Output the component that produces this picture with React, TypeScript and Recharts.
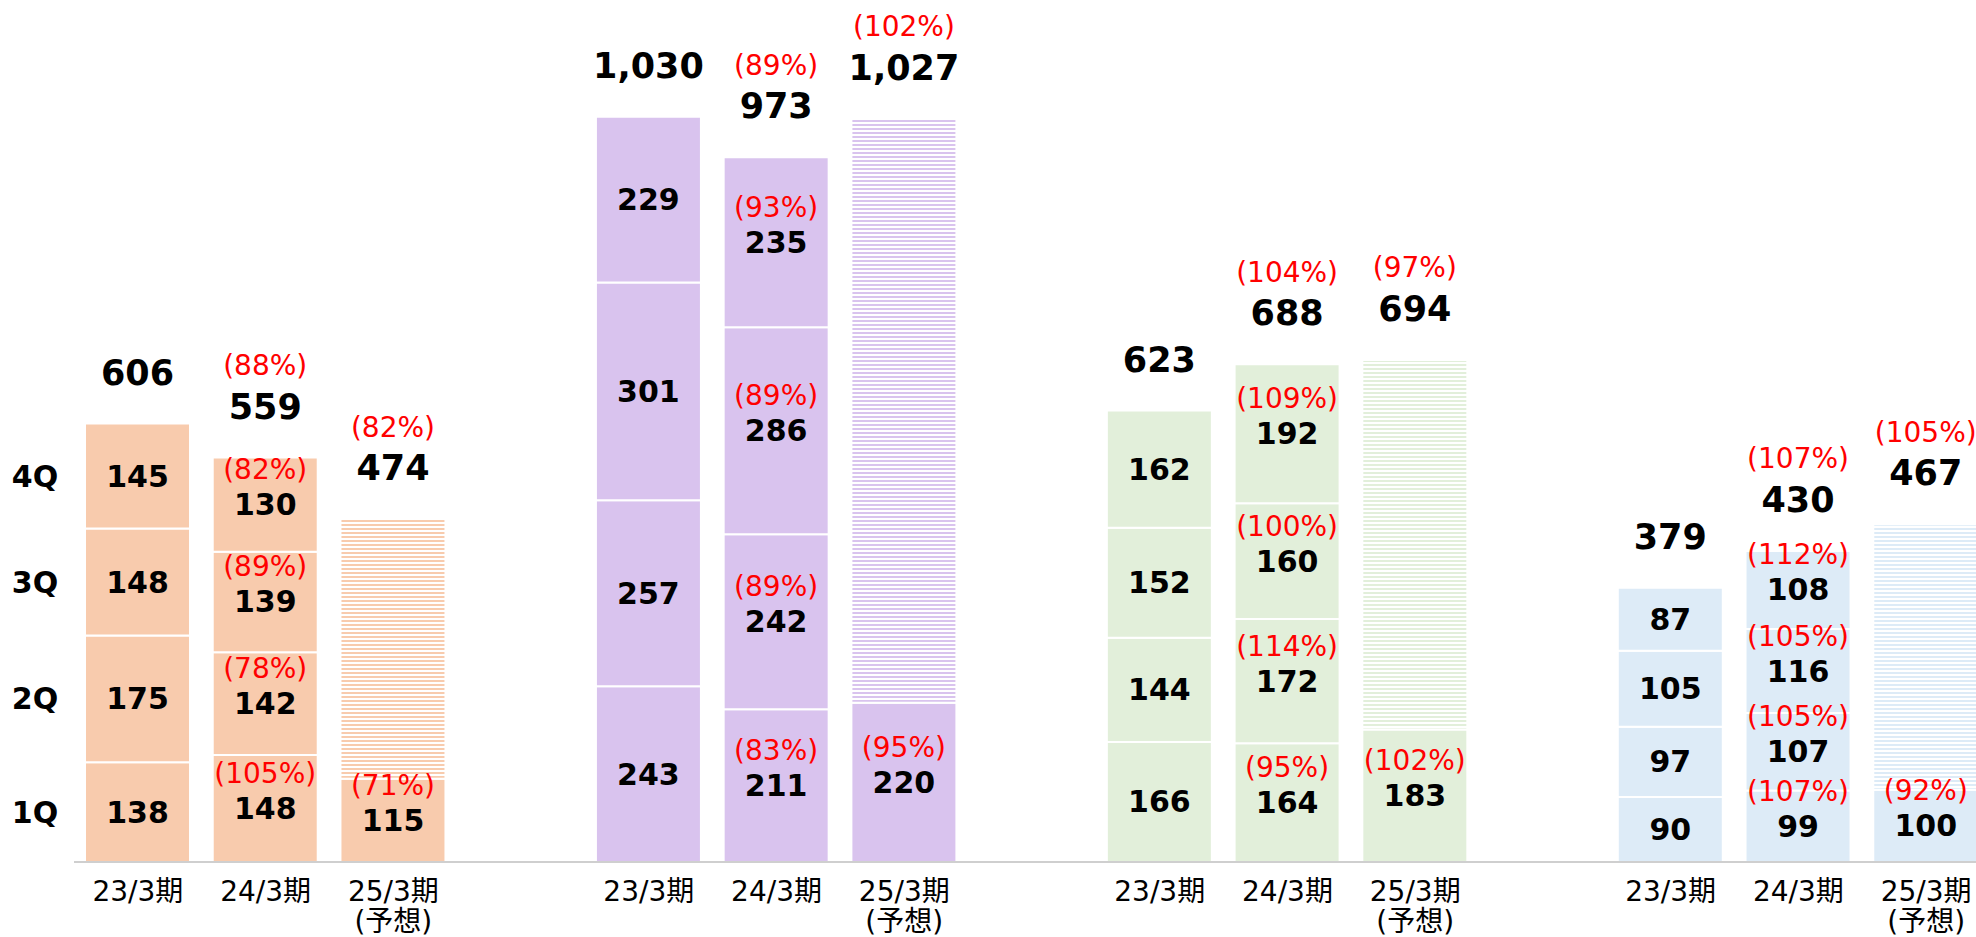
import React from "react";
import { BarChart, Bar, XAxis, YAxis, Cell, LabelList } from "recharts";

const periodLabels = ["23/3期", "24/3期", "25/3期"];
const forecastNote = "(予想)";
const quarterNames = ["1Q", "2Q", "3Q", "4Q"];
const groupColors = ["#F8CBAD", "#D9C3EE", "#E2EFDA", "#DDEBF7"];

// per group: [23/3, 24/3, 25/3]
const q1Values = [
  [138, 148, 115],
  [243, 211, 220],
  [166, 164, 183],
  [90, 99, 100],
];
// per group: [23/3, 24/3]
const q2Values = [
  [175, 142],
  [257, 242],
  [144, 172],
  [97, 107],
];
const q3Values = [
  [148, 139],
  [301, 286],
  [152, 160],
  [105, 116],
];
const q4Values = [
  [145, 130],
  [229, 235],
  [162, 192],
  [87, 108],
];
const totals = [
  [606, 559, 474],
  [1030, 973, 1027],
  [623, 688, 694],
  [379, 430, 467],
];
// YoY % for 24/3 quarters [1Q, 2Q, 3Q, 4Q]
const pct24Quarter = [
  [105, 78, 89, 82],
  [83, 89, 89, 93],
  [95, 114, 100, 109],
  [107, 105, 105, 112],
];
const pct24Total = [88, 89, 104, 107];
const pct25Q1 = [71, 95, 102, 92];
const pct25Total = [82, 102, 97, 105];

const FONT = "'DejaVu Sans', 'Noto Sans CJK JP', sans-serif";
const CHART_W = 1990;
const CHART_H = 937;
const AXIS_H = 75;
const PLOT_BOTTOM = CHART_H - AXIS_H;

type Row = {
  key: string;
  group: number;
  period: number;
  q1: number;
  q2: number;
  q3: number;
  q4: number;
  rest: number;
  total: number | null;
  totalPct: number | null;
  pcts: (number | null)[];
};

const rows: Row[] = [];
groupColors.forEach((_, g) => {
  periodLabels.forEach((_, p) => {
    const forecast = p === 2;
    rows.push({
      key: `g${g}-p${p}`,
      group: g,
      period: p,
      q1: q1Values[g][p],
      q2: forecast ? 0 : q2Values[g][p],
      q3: forecast ? 0 : q3Values[g][p],
      q4: forecast ? 0 : q4Values[g][p],
      rest: forecast ? totals[g][p] - q1Values[g][p] : 0,
      total: totals[g][p],
      totalPct: p === 1 ? pct24Total[g] : forecast ? pct25Total[g] : null,
      pcts:
        p === 1
          ? pct24Quarter[g]
          : forecast
          ? [pct25Q1[g], null, null, null]
          : [null, null, null, null],
    });
  });
  if (g < groupColors.length - 1) {
    rows.push({
      key: `gap${g}`,
      group: -1,
      period: -1,
      q1: 0,
      q2: 0,
      q3: 0,
      q4: 0,
      rest: 0,
      total: null,
      totalPct: null,
      pcts: [null, null, null, null],
    });
  }
});

const rowByKey = new Map(rows.map((r) => [r.key, r]));
const qKeys = ["q1", "q2", "q3", "q4"] as const;

const makeQuarterLabel = (qi: number) => (props: any) => {
  const { x, y, width, height, value } = props;
  const row = rowByKey.get(value);
  if (!row) return null;
  const v = row[qKeys[qi]];
  if (!v) return null;
  const cx = Number(x) + Number(width) / 2;
  const cy = Number(y) + Number(height) / 2;
  const pct = row.pcts[qi];
  return (
    <g>
      {row.key === rows[0].key && (
        <text
          x={35}
          y={cy}
          textAnchor="middle"
          dominantBaseline="central"
          fontFamily={FONT}
          fontWeight="bold"
          fontSize={30}
          fill="#000"
        >
          {quarterNames[qi]}
        </text>
      )}
      <text
        x={cx}
        y={cy}
        textAnchor="middle"
        dominantBaseline="central"
        fontFamily={FONT}
        fontWeight="bold"
        fontSize={30}
        fill="#000"
      >
        {v}
      </text>
      {pct != null && (
        <text
          x={cx}
          y={cy - 35}
          textAnchor="middle"
          dominantBaseline="central"
          fontFamily={FONT}
          fontSize={28}
          fill="#FF0000"
        >
          ({pct}%)
        </text>
      )}
    </g>
  );
};

const makeTotalLabel = (topKey: "q4" | "rest") => (props: any) => {
  const { x, y, width, value } = props;
  const row = rowByKey.get(value);
  if (!row || !row[topKey] || row.total == null) return null;
  const cx = Number(x) + Number(width) / 2;
  const top = Number(y);
  return (
    <g>
      <text
        x={cx}
        y={top - 51}
        textAnchor="middle"
        dominantBaseline="central"
        fontFamily={FONT}
        fontWeight="bold"
        fontSize={35}
        fill="#000"
      >
        {row.total.toLocaleString("en-US")}
      </text>
      {row.totalPct != null && (
        <text
          x={cx}
          y={top - 92}
          textAnchor="middle"
          dominantBaseline="central"
          fontFamily={FONT}
          fontSize={28}
          fill="#FF0000"
        >
          ({row.totalPct}%)
        </text>
      )}
    </g>
  );
};

const AxisTick = (props: any) => {
  const { x, payload } = props;
  const row = rowByKey.get(payload?.value);
  if (!row || row.group < 0) return null;
  return (
    <g>
      <text
        x={x}
        y={PLOT_BOTTOM + 29}
        textAnchor="middle"
        dominantBaseline="central"
        fontFamily={FONT}
        fontSize={28}
        fill="#000"
      >
        {periodLabels[row.period]}
      </text>
      {row.period === 2 && (
        <text
          x={x}
          y={PLOT_BOTTOM + 59}
          textAnchor="middle"
          dominantBaseline="central"
          fontFamily={FONT}
          fontSize={28}
          fill="#000"
        >
          {forecastNote}
        </text>
      )}
    </g>
  );
};

export default function App() {
  return (
    <div
      style={{
        position: "fixed",
        left: 0,
        top: 0,
        width: 1976,
        height: 937,
        overflow: "hidden",
        background: "#fff",
      }}
    >
      <BarChart
        width={CHART_W}
        height={CHART_H}
        data={rows}
        margin={{ top: 30, right: 0, left: 74, bottom: 0 }}
        barSize={105}
      >
        <defs>
          {groupColors.map((c, g) => (
            <pattern
              key={g}
              id={`hatch-${g}`}
              patternUnits="userSpaceOnUse"
              width={10}
              height={4}
            >
              <rect x={0} y={0} width={10} height={2} fill={c} />
            </pattern>
          ))}
        </defs>
        <XAxis
          dataKey="key"
          interval={0}
          tickLine={false}
          axisLine={{ stroke: "#BFBFBF", strokeWidth: 1.5 }}
          height={AXIS_H}
          tick={<AxisTick />}
        />
        <YAxis hide domain={[0, 1150]} />
        {qKeys.map((k, qi) => (
          <Bar
            key={k}
            dataKey={k}
            stackId="a"
            stroke="#fff"
            strokeWidth={2}
            isAnimationActive={false}
          >
            {rows.map((r) => (
              <Cell
                key={r.key}
                fill={r.group >= 0 ? groupColors[r.group] : "none"}
              />
            ))}
            <LabelList dataKey="key" content={makeQuarterLabel(qi)} />
            {k === "q4" && (
              <LabelList dataKey="key" content={makeTotalLabel("q4")} />
            )}
          </Bar>
        ))}
        <Bar
          dataKey="rest"
          stackId="a"
          stroke="#fff"
          strokeWidth={2}
          isAnimationActive={false}
        >
          {rows.map((r) => (
            <Cell
              key={r.key}
              fill={r.group >= 0 ? `url(#hatch-${r.group})` : "none"}
            />
          ))}
          <LabelList dataKey="key" content={makeTotalLabel("rest")} />
        </Bar>
      </BarChart>
    </div>
  );
}
